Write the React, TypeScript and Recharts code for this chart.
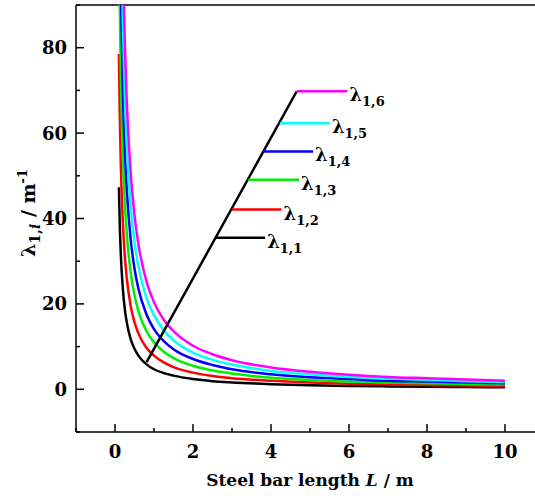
import React from 'react';
import { LineChart, Line, XAxis, YAxis, ReferenceLine } from 'recharts';

// steel bar length L (m) where the curves were read
const lengths = [0.1, 0.12, 0.15, 0.2, 0.25, 0.3, 0.4, 0.5, 0.6, 0.8, 1, 1.25, 1.5, 2, 2.5, 3, 4, 5, 6, 7, 8, 9, 10];

const lambda11 = [47.3, 39.4, 31.5, 23.7, 18.9, 15.8, 11.8, 9.5, 7.9, 5.9, 4.7, 3.8, 3.2, 2.4, 1.9, 1.6, 1.2, 0.95, 0.79, 0.68, 0.59, 0.53, 0.47];
const lambda12 = [78.5, 65.4, 52.4, 39.3, 31.4, 26.2, 19.6, 15.7, 13.1, 9.8, 7.9, 6.3, 5.2, 3.9, 3.1, 2.6, 2.0, 1.6, 1.3, 1.1, 0.98, 0.87, 0.79];
const lambda13 = [110, 91.6, 73.3, 55.0, 44.0, 36.7, 27.5, 22.0, 18.3, 13.7, 11.0, 8.8, 7.3, 5.5, 4.4, 3.7, 2.7, 2.2, 1.8, 1.6, 1.4, 1.2, 1.1];
const lambda14 = [141.4, 117.8, 94.2, 70.7, 56.5, 47.1, 35.3, 28.3, 23.6, 17.7, 14.1, 11.3, 9.4, 7.1, 5.7, 4.7, 3.5, 2.8, 2.4, 2.0, 1.8, 1.6, 1.4];
const lambda15 = [172.8, 144, 115.2, 86.4, 69.1, 57.6, 43.2, 34.6, 28.8, 21.6, 17.3, 13.8, 11.5, 8.6, 6.9, 5.8, 4.3, 3.5, 2.9, 2.5, 2.2, 1.9, 1.7];
const lambda16 = [204.2, 170.2, 136.1, 102.1, 81.7, 68.1, 51.1, 40.8, 34.0, 25.5, 20.4, 16.3, 13.6, 10.2, 8.2, 6.8, 5.1, 4.1, 3.4, 2.9, 2.6, 2.3, 2.0];

const seriesValues = [lambda11, lambda12, lambda13, lambda14, lambda15, lambda16];
const seriesNames = ['1,1', '1,2', '1,3', '1,4', '1,5', '1,6'];
const seriesColors = ['#000000', '#ff0000', '#00ee00', '#0000ff', '#00ffff', '#ff00ff'];

// annotation: slanted pointer line and the little legend segments
const pointerL = [0.81, 4.66];
const pointerV = [6.35, 69.8];
const legendV = [35.5, 42.1, 49.1, 55.7, 62.3, 69.8];
const legendStart = [2.57, 2.99, 3.42, 3.8, 4.23, 4.66];
const legendEnd = [3.85, 4.27, 4.72, 5.08, 5.51, 5.96];

const xTicks = [-1, 0, 1, 2, 3, 4, 5, 6, 7, 8, 9, 10];
const yTicks = [-10, 0, 10, 20, 30, 40, 50, 60, 70, 80, 90];

const FONT = 'DejaVu Serif';
const PLOT_LEFT = 76;
const PLOT_BOTTOM = 432;

const curves = seriesValues.map((vals) => lengths.map((L, i) => ({ L, v: vals[i] })));
const pointer = pointerL.map((L, i) => ({ L, v: pointerV[i] }));
const segments = legendV.map((v, i) => [
  { L: legendStart[i], v },
  { L: legendEnd[i], v },
]);

const XTick = (props: any) => {
  const { x, payload } = props;
  const major = payload.value % 2 === 0;
  return (
    <g>
      <line x1={x} x2={x} y1={PLOT_BOTTOM} y2={PLOT_BOTTOM - (major ? 8 : 4)} stroke="#000" strokeWidth={1.5} />
      {major && (
        <text x={x} y={458} textAnchor="middle" fontFamily={FONT} fontWeight="bold" fontSize={18} fill="#000">
          {payload.value}
        </text>
      )}
    </g>
  );
};

const YTick = (props: any) => {
  const { y, payload } = props;
  const major = payload.value % 20 === 0;
  return (
    <g>
      <line x1={PLOT_LEFT} x2={PLOT_LEFT + (major ? 8 : 4)} y1={y} y2={y} stroke="#000" strokeWidth={1.5} />
      {major && (
        <text x={67} y={y + 6.5} textAnchor="end" fontFamily={FONT} fontWeight="bold" fontSize={18} fill="#000">
          {payload.value}
        </text>
      )}
    </g>
  );
};

const XTitle = () => (
  <text x={310} y={486} textAnchor="middle" fontFamily={FONT} fontWeight="bold" fontSize={17} fill="#000">
    Steel bar length <tspan fontStyle="italic">L</tspan> / m
  </text>
);

const YTitle = () => (
  <text
    x={35}
    y={213}
    transform="rotate(-90, 35, 213)"
    textAnchor="middle"
    fontFamily={FONT}
    fontWeight="bold"
    fontSize={19}
    fill="#000"
  >
    λ<tspan fontSize={14} dy={5}>1,</tspan>
    <tspan fontSize={14} fontStyle="italic">i</tspan>
    <tspan dy={-5}> / m</tspan>
    <tspan fontSize={13} dy={-8}>-1</tspan>
  </text>
);

const legendLabel = (name: string) => (p: any) => {
  if (p.index !== 1) return <g key={`d-${name}-${p.index}`} />;
  return (
    <text key={`lab-${name}`} x={p.cx + 2} y={p.cy + 10} fontFamily={FONT} fontWeight="bold" fontSize={18} fill="#000">
      λ<tspan fontSize={13} dy={5}>{name}</tspan>
    </text>
  );
};

export default function App() {
  return (
    <div style={{ position: 'absolute', left: 0, top: 0, width: 535, height: 496, overflow: 'hidden', background: '#fff' }}>
      <LineChart width={544} height={496} margin={{ top: 5, right: 0, bottom: 0, left: 0 }}>
        <XAxis
          type="number"
          dataKey="L"
          domain={[-1, 11]}
          ticks={xTicks}
          interval={0}
          allowDataOverflow
          height={64}
          tickLine={false}
          axisLine={{ stroke: '#000', strokeWidth: 1.5 }}
          tick={<XTick />}
          label={<XTitle />}
        />
        <YAxis
          type="number"
          domain={[-10, 90]}
          ticks={yTicks}
          interval={0}
          allowDataOverflow
          width={76}
          tickLine={false}
          axisLine={{ stroke: '#000', strokeWidth: 1.5 }}
          tick={<YTick />}
          label={<YTitle />}
        />
        <ReferenceLine y={90} stroke="#444" strokeWidth={2} />
        {curves.map((d, i) => (
          <Line
            key={seriesNames[i]}
            data={d}
            dataKey="v"
            type="monotone"
            stroke={seriesColors[i]}
            strokeWidth={2.5}
            dot={false}
            activeDot={false}
            isAnimationActive={false}
          />
        ))}
        <Line
          data={pointer}
          dataKey="v"
          type="linear"
          stroke="#000"
          strokeWidth={2.5}
          dot={false}
          activeDot={false}
          isAnimationActive={false}
        />
        {segments.map((d, i) => (
          <Line
            key={`seg-${seriesNames[i]}`}
            data={d}
            dataKey="v"
            type="linear"
            stroke={seriesColors[i]}
            strokeWidth={2.5}
            dot={legendLabel(seriesNames[i])}
            activeDot={false}
            isAnimationActive={false}
          />
        ))}
      </LineChart>
    </div>
  );
}
